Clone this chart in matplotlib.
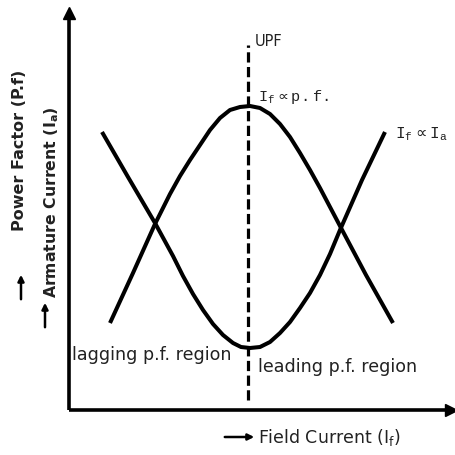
import matplotlib
matplotlib.use("Agg")
import matplotlib.pyplot as plt

# Data (x: field current, y: armature current / p.f.), arbitrary units
pf_x = [41, 64, 86, 101, 111, 121, 131, 141, 151, 161, 171, 181, 191, 201, 211, 221, 231, 241,
        251, 261, 271, 297, 324]
pf_y = [87, 137, 186, 216, 234, 250, 265, 280, 292, 300, 303, 304, 302, 296, 286, 273, 257, 240,
        222, 203, 184, 135, 87]

ia_x = [33, 59, 86, 104, 114, 124, 134, 144, 154, 164, 172, 181, 191, 201, 211, 221, 231, 241,
        251, 261, 271, 293, 316]
ia_y = [278, 233, 187, 154, 134, 116, 100, 86, 75, 67, 63, 62, 63, 68, 77, 88, 102, 117,
        135, 156, 180, 230, 278]

upf_x = 179
upf_y = [10, 365]

fig = plt.figure(figsize=(4.55, 4.55), dpi=100)
ax = fig.add_axes([69/455, 45/455, 386/455, 410/455])
ax.set_xlim(0, 386)
ax.set_ylim(0, 410)
ax.axis("off")

# axes lines with arrow heads
ax.plot([0, 0], [0, 392], color="black", lw=2.6, solid_capstyle="butt", clip_on=False)
ax.plot([0, 380], [0, 0], color="black", lw=2.6, solid_capstyle="butt", clip_on=False)
ax.plot([0], [397], marker="^", ms=9, color="black", clip_on=False)
ax.plot([382], [0], marker=">", ms=8, color="black", clip_on=False)

# UPF dashed line
ax.plot([upf_x, upf_x], upf_y, color="black", lw=2.3, linestyle=(0, (3.2, 1.4)), clip_on=False)

# curves
ax.plot(pf_x, pf_y, color="black", lw=2.9, solid_capstyle="butt", solid_joinstyle="round")
ax.plot(ia_x, ia_y, color="black", lw=2.9, solid_capstyle="butt", solid_joinstyle="round")

tc = "#222222"
mono = "Liberation Mono"

ax.text(186, 368, "UPF", fontsize=10.5, color=tc, ha="left", va="center", family="DejaVu Sans")
ax.text(189, 313, r"$\mathregular{I_f}\propto\mathregular{p.f.}$", fontsize=11, color=tc,
        ha="left", va="center", family=mono)
ax.text(326, 276, r"$\mathregular{I_f}\propto\mathregular{I_a}$", fontsize=11.5, color=tc,
        ha="left", va="center", family=mono, clip_on=False)

ax.text(3, 55, "lagging p.f. region", fontsize=12.6, color=tc, ha="left", va="center",
        family="DejaVu Sans")
ax.text(189, 43, "leading p.f. region", fontsize=12.6, color=tc, ha="left", va="center",
        family="DejaVu Sans")

# x label with arrow
ax.annotate("", xy=(188, -27), xytext=(153, -27),
            arrowprops=dict(arrowstyle="-|>", color="black", lw=1.8, mutation_scale=9),
            annotation_clip=False)
ax.text(189, -27, r"Field Current ($\mathregular{I_f}$)", fontsize=12.5, color=tc, ha="left",
        va="center", family="DejaVu Sans", clip_on=False)

# y labels with arrows
ax.text(-49, 260, "Power Factor (P.f)", fontsize=11.5, color=tc, rotation=90, ha="center",
        va="center", family="DejaVu Sans", fontweight="bold", clip_on=False)
ax.annotate("", xy=(-48, 138), xytext=(-48, 108),
            arrowprops=dict(arrowstyle="-|>", color="black", lw=1.8, mutation_scale=9),
            annotation_clip=False)
ax.text(-17, 208, r"Armature Current ($\mathregular{I_a}$)", fontsize=11.3, color=tc, rotation=90,
        ha="center", va="center", family="DejaVu Sans", fontweight="bold", clip_on=False)
ax.annotate("", xy=(-24, 110), xytext=(-24, 80),
            arrowprops=dict(arrowstyle="-|>", color="black", lw=1.8, mutation_scale=9),
            annotation_clip=False)

fig.savefig("out.png", dpi=100)
